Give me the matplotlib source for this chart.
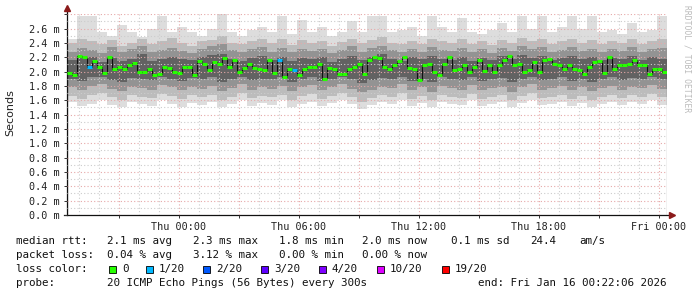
import numpy as np
import matplotlib
matplotlib.use('Agg')
import matplotlib.pyplot as plt
from matplotlib.ticker import MultipleLocator, FuncFormatter
from matplotlib.patches import Rectangle

######### data (ms), hours relative to Thu 00:00
t_start = -5.6
t_end = 24.4

# median rtt, one value per 15 min
median = [1.98, 1.95, 2.22, 2.20, 2.06, 2.15, 2.06, 1.98, 2.21, 2.03, 2.06, 2.04, 2.09, 2.12, 1.99, 1.99, 2.03, 1.95, 1.97, 2.06, 2.05,
          1.99, 1.98, 2.06, 2.07, 1.95, 2.15, 2.10, 2.02, 2.13, 2.11, 2.19, 2.07, 2.16, 1.99, 2.05, 2.10, 2.05, 2.04, 2.02, 2.16,
          1.98, 2.16, 1.92, 2.04, 2.02, 1.95, 2.04, 2.07, 2.06, 2.10, 1.90, 2.05, 2.03, 1.96, 1.96, 2.04, 2.06, 2.11, 1.97, 2.16,
          2.20, 2.19, 2.06, 2.04, 2.09, 2.15, 2.20, 2.05, 2.03, 1.88, 2.09, 2.10, 1.99, 1.95, 2.11, 2.20, 2.02, 2.03, 2.09, 1.99,
          2.06, 2.16, 2.01, 2.09, 2.00, 2.09, 2.16, 2.22, 2.09, 2.10, 1.99, 2.02, 2.13, 1.99, 2.16, 2.18, 2.11, 2.09, 2.04, 2.09,
          2.03, 2.02, 1.97, 2.06, 2.13, 2.15, 1.98, 2.20, 2.04, 2.09, 2.09, 2.11, 2.16, 2.09, 2.09, 1.97, 2.03, 2.03, 1.99]
loss_idx = [4, 42, 45]   # steps with 1/20 loss

# smoke envelopes, one value per 30 min
ping_max = [2.45, 2.78, 2.78, 2.55, 2.50, 2.65, 2.55, 2.48, 2.60, 2.78, 2.55, 2.62, 2.55, 2.50, 2.60,
            2.80, 2.55, 2.50, 2.58, 2.62, 2.55, 2.78, 2.52, 2.72, 2.55, 2.62, 2.50, 2.55, 2.70, 2.55,
            2.78, 2.78, 2.55, 2.58, 2.62, 2.50, 2.78, 2.62, 2.55, 2.75, 2.55, 2.52, 2.58, 2.68, 2.55,
            2.78, 2.60, 2.78, 2.55, 2.62, 2.78, 2.60, 2.78, 2.55, 2.58, 2.52, 2.68, 2.55, 2.58, 2.78]
ping_hi2 = [2.40, 2.46, 2.42, 2.38, 2.44, 2.36, 2.40, 2.45, 2.38, 2.42, 2.47, 2.40, 2.36, 2.42, 2.44,
            2.50, 2.40, 2.38, 2.43, 2.46, 2.40, 2.45, 2.37, 2.44, 2.40, 2.42, 2.36, 2.41, 2.46, 2.40,
            2.44, 2.48, 2.40, 2.38, 2.43, 2.38, 2.46, 2.42, 2.40, 2.45, 2.39, 2.42, 2.37, 2.44, 2.40,
            2.47, 2.42, 2.45, 2.38, 2.42, 2.46, 2.40, 2.44, 2.38, 2.42, 2.40, 2.46, 2.39, 2.43, 2.45]
ping_hi3 = [2.28, 2.33, 2.30, 2.26, 2.34, 2.27, 2.31, 2.36, 2.28, 2.30, 2.33, 2.29, 2.26, 2.32, 2.35,
            2.38, 2.30, 2.27, 2.31, 2.34, 2.28, 2.33, 2.27, 2.32, 2.29, 2.31, 2.26, 2.30, 2.35, 2.28,
            2.33, 2.36, 2.30, 2.27, 2.31, 2.28, 2.34, 2.30, 2.29, 2.33, 2.27, 2.31, 2.26, 2.33, 2.29,
            2.35, 2.31, 2.34, 2.27, 2.30, 2.34, 2.29, 2.32, 2.27, 2.31, 2.29, 2.34, 2.28, 2.32, 2.33]
ping_hi4 = [2.16, 2.22, 2.20, 2.14, 2.19, 2.15, 2.18, 2.24, 2.15, 2.18, 2.20, 2.17, 2.16, 2.21, 2.23,
            2.25, 2.18, 2.15, 2.19, 2.22, 2.16, 2.20, 2.15, 2.19, 2.17, 2.20, 2.14, 2.18, 2.22, 2.16,
            2.21, 2.24, 2.18, 2.15, 2.20, 2.17, 2.22, 2.18, 2.16, 2.21, 2.15, 2.19, 2.16, 2.22, 2.17,
            2.23, 2.19, 2.22, 2.16, 2.19, 2.22, 2.17, 2.21, 2.16, 2.19, 2.17, 2.22, 2.16, 2.20, 2.18]
ping_lo4 = [1.90, 1.87, 1.92, 1.93, 1.88, 1.86, 1.91, 1.89, 1.88, 1.92, 1.90, 1.87, 1.91, 1.89, 1.92,
            1.86, 1.90, 1.93, 1.88, 1.90, 1.89, 1.92, 1.86, 1.90, 1.93, 1.87, 1.90, 1.92, 1.89, 1.84,
            1.88, 1.91, 1.90, 1.93, 1.87, 1.90, 1.85, 1.92, 1.90, 1.88, 1.92, 1.87, 1.90, 1.91, 1.86,
            1.90, 1.93, 1.88, 1.90, 1.92, 1.87, 1.90, 1.86, 1.90, 1.92, 1.88, 1.91, 1.90, 1.92, 1.89]
ping_lo3 = [1.78, 1.74, 1.80, 1.82, 1.76, 1.73, 1.79, 1.77, 1.75, 1.81, 1.78, 1.74, 1.79, 1.76, 1.80,
            1.73, 1.77, 1.82, 1.75, 1.78, 1.76, 1.80, 1.73, 1.78, 1.81, 1.74, 1.78, 1.82, 1.76, 1.71,
            1.75, 1.79, 1.77, 1.82, 1.74, 1.78, 1.72, 1.80, 1.77, 1.75, 1.81, 1.74, 1.77, 1.79, 1.72,
            1.78, 1.82, 1.75, 1.77, 1.80, 1.74, 1.78, 1.73, 1.77, 1.80, 1.75, 1.79, 1.77, 1.81, 1.76]
ping_lo2 = [1.66, 1.62, 1.68, 1.70, 1.64, 1.60, 1.67, 1.65, 1.63, 1.69, 1.66, 1.62, 1.67, 1.64, 1.68,
            1.61, 1.65, 1.70, 1.63, 1.66, 1.64, 1.68, 1.61, 1.66, 1.69, 1.62, 1.66, 1.70, 1.64, 1.58,
            1.63, 1.67, 1.65, 1.70, 1.62, 1.66, 1.60, 1.68, 1.65, 1.63, 1.69, 1.62, 1.65, 1.67, 1.60,
            1.66, 1.70, 1.63, 1.65, 1.68, 1.62, 1.66, 1.61, 1.65, 1.68, 1.63, 1.67, 1.65, 1.69, 1.64]
ping_min = [1.57, 1.52, 1.55, 1.60, 1.53, 1.50, 1.58, 1.55, 1.52, 1.60, 1.55, 1.50, 1.56, 1.53, 1.58,
            1.50, 1.55, 1.60, 1.52, 1.56, 1.54, 1.60, 1.50, 1.55, 1.58, 1.52, 1.56, 1.60, 1.55, 1.48,
            1.53, 1.57, 1.55, 1.60, 1.52, 1.56, 1.50, 1.58, 1.55, 1.53, 1.60, 1.52, 1.55, 1.57, 1.50,
            1.56, 1.60, 1.53, 1.55, 1.58, 1.52, 1.56, 1.50, 1.55, 1.58, 1.53, 1.57, 1.55, 1.60, 1.54]

loss_colors = ['#26ff00', '#00b8ff', '#0059ff', '#5e00ff', '#7e00ff', '#dd00ff', '#ff0000']
loss_names = ['0', '1/20', '2/20', '3/20', '4/20', '10/20', '19/20']

mono = 'DejaVu Sans Mono'

fig = plt.figure(figsize=(6.97, 2.97), dpi=100)
W, H = 697., 297.
ax = fig.add_axes([67/W, 1-215/H, 600/W, (215-13.5)/H])

t_med = t_start + 0.25*np.arange(len(median)+1)
t_env = t_start + 0.5*np.arange(len(ping_max)+1)

######### smoke
ax.stairs(ping_max, t_env, baseline=ping_min, fill=True, color='#dddddd', lw=0)
ax.stairs(ping_hi2, t_env, baseline=ping_lo2, fill=True, color='#bcbcbc', lw=0)
ax.stairs(ping_hi3, t_env, baseline=ping_lo3, fill=True, color='#939393', lw=0)
ax.stairs(ping_hi4, t_env, baseline=ping_lo4, fill=True, color='#626262', lw=0)

######### median
ax.stairs(median, t_med, color='#111111', lw=0.8)
cols = [loss_colors[1] if i in loss_idx else loss_colors[0] for i in range(len(median))]
ax.hlines(median, t_med[:-1], t_med[1:], colors=cols, lw=2.2, zorder=3)

ax.set_xlim(t_start, t_end)
ax.set_ylim(0, 2.81)

######### grid / ticks
ax.yaxis.set_major_locator(MultipleLocator(0.2))
ax.yaxis.set_minor_locator(MultipleLocator(0.1))
ax.xaxis.set_major_locator(MultipleLocator(3))
ax.xaxis.set_minor_locator(MultipleLocator(1))

def ylab(v, pos):
    return '' if v > 2.7 else '%.1f m' % v

def xlab(h, pos):
    h = int(round(h))
    if h % 6 != 0:
        return ''
    day = 'Thu' if h < 24 else 'Fri'
    return '%s %02d:00' % (day, h % 24)

ax.yaxis.set_major_formatter(FuncFormatter(ylab))
ax.xaxis.set_major_formatter(FuncFormatter(xlab))
ax.grid(which='major', color='#e6a8a8', ls=(0, (1, 2)), lw=0.8)
ax.grid(which='minor', color='#cccccc', ls=(0, (1, 2)), lw=0.8)
ax.set_axisbelow(False)
ax.tick_params(which='major', length=2, width=0.7, color='#333333', pad=3, labelsize=7.3)
ax.tick_params(which='minor', length=0)
for lab in ax.get_xticklabels() + ax.get_yticklabels():
    lab.set_family(mono)
    lab.set_color('#222222')

for s in ax.spines.values():
    s.set_visible(False)
ax.plot([0, 0], [0, 1.02], transform=ax.transAxes, color='#111111', lw=0.9, clip_on=False)
ax.plot([-0.005, 1.006], [0, 0], transform=ax.transAxes, color='#111111', lw=0.9, clip_on=False)
ax.plot([0], [1.025], marker='^', ms=4, color='#8b1a1a', transform=ax.transAxes, clip_on=False)
ax.plot([1.008], [0], marker='>', ms=4, color='#8b1a1a', transform=ax.transAxes, clip_on=False)

fig.text(10/W, 1-113/H, 'Seconds', rotation=90, ha='center', va='center', fontsize=8, color='#222222')
fig.text(687/W, 1-5/H, 'RRDTOOL / TOBI OETIKER', rotation=270, ha='center', va='top',
         fontsize=5.8, family=mono, color='#bbbbbb')

######### legend block
fs = 7.8
def txt(x, y, s):
    fig.text(x/W, 1-y/H, s, family=mono, fontsize=fs, va='center', ha='left', color='#111111')

txt(16, 241, 'median rtt:')
for x, s in [(107, '2.1 ms avg'), (193, '2.3 ms max'), (279, '1.8 ms min'), (362, '2.0 ms now'),
             (451, '0.1 ms sd'), (530, '24.4'), (579, 'am/s')]:
    txt(x, 241, s)
txt(16, 255, 'packet loss:')
for x, s in [(107, '0.04 % avg'), (193, '3.12 % max'), (279, '0.00 % min'), (362, '0.00 % now')]:
    txt(x, 255, s)
txt(16, 269, 'loss color:')
sq_x = [109, 146, 203, 261, 319, 377, 442]
for x, c, n in zip(sq_x, loss_colors, loss_names):
    fig.add_artist(Rectangle((x/W, 1-273/H), 7/W, 7/H, transform=fig.transFigure,
                             facecolor=c, edgecolor='#000000', lw=0.6))
    txt(x+13, 269, n)
txt(16, 283, 'probe:')
txt(107, 283, '20 ICMP Echo Pings (56 Bytes) every 300s')
txt(478, 283, 'end: Fri Jan 16 00:22:06 2026')

fig.savefig('out.png', dpi=100, facecolor='white')
